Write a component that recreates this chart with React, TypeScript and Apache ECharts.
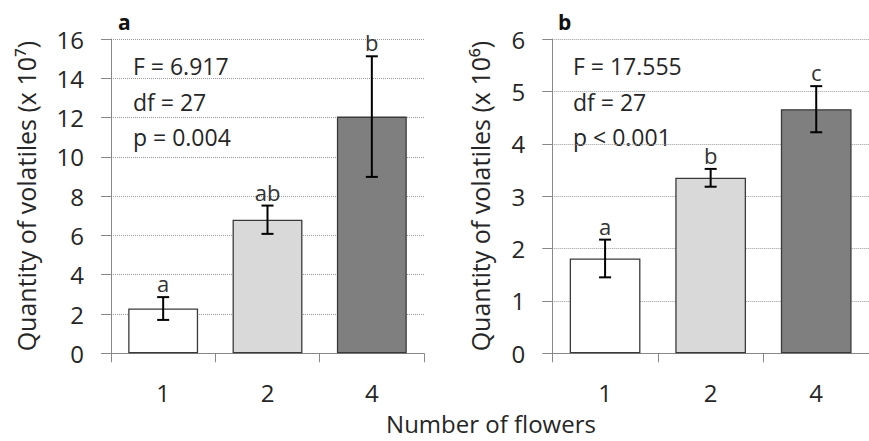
import React, { useEffect, useRef } from "react";
import * as echarts from "echarts";

// Number of flowers per sample
const categories = ["1", "2", "4"];

// Panel a: quantity of volatiles (x 10^7), mean and standard error
const volatilesA = [2.28, 6.8, 12.05];
const errorA = [0.58, 0.72, 3.07];
const lettersA = ["a", "ab", "b"];
const statsA = ["F = 6.917", "df = 27", "p = 0.004"];

// Panel b: quantity of volatiles (x 10^6), mean and standard error
const volatilesB = [1.81, 3.35, 4.66];
const errorB = [0.36, 0.17, 0.44];
const lettersB = ["a", "b", "c"];
const statsB = ["F = 17.555", "df = 27", "p < 0.001"];

const barFills = ["#ffffff", "#d9d9d9", "#7f7f7f"];

const FONT = "'Open Sans', 'Noto Sans', sans-serif";
const TEXT = "#262626";

function errorSeries(gridIndex: number, values: number[], errors: number[], letters: string[]) {
  return {
    type: "custom",
    xAxisIndex: gridIndex,
    yAxisIndex: gridIndex,
    z: 5,
    data: values.map((v, i) => [i, v, errors[i]]),
    renderItem: (params: any, api: any) => {
      const i = api.value(0);
      const v = api.value(1);
      const e = api.value(2);
      const top = api.coord([i, v + e]);
      const bot = api.coord([i, v - e]);
      const half = 6;
      const line = { stroke: "#000", lineWidth: 2 };
      return {
        type: "group",
        children: [
          { type: "line", shape: { x1: top[0], y1: top[1], x2: bot[0], y2: bot[1] }, style: line },
          { type: "line", shape: { x1: top[0] - half, y1: top[1], x2: top[0] + half, y2: top[1] }, style: line },
          { type: "line", shape: { x1: bot[0] - half, y1: bot[1], x2: bot[0] + half, y2: bot[1] }, style: line },
          {
            type: "text",
            x: top[0],
            y: top[1] - 3,
            style: {
              text: letters[params.dataIndex],
              fontSize: 22,
              fontFamily: FONT,
              fill: "#333",
              align: "center",
              verticalAlign: "bottom",
            },
          },
        ],
      };
    },
  };
}

function barSeries(gridIndex: number, values: number[]) {
  return {
    type: "bar",
    xAxisIndex: gridIndex,
    yAxisIndex: gridIndex,
    barWidth: "67%",
    data: values.map((v, i) => ({
      value: v,
      itemStyle: { color: barFills[i], borderColor: "#3a3a3a", borderWidth: 1.3 },
    })),
  };
}

function statText(lines: string[], x: number) {
  return lines.map((t, k) => ({
    type: "text",
    x,
    y: 66 + k * 35.5,
    style: { text: t, fontSize: 23, fontFamily: FONT, fill: TEXT, verticalAlign: "middle" },
  }));
}

export default function App() {
  const ref = useRef<HTMLDivElement>(null);

  useEffect(() => {
    if (!ref.current) return;
    const chart = echarts.init(ref.current, null, { renderer: "svg" });

    const axisLine = { lineStyle: { color: "#888888", width: 1 } };
    const xAxisBase = {
      type: "category",
      data: categories,
      axisLine,
      axisTick: { show: true, length: 9, lineStyle: { color: "#888888" } },
      axisLabel: { fontSize: 24, fontFamily: FONT, color: TEXT, margin: 27 },
    };
    const yAxisBase = {
      type: "value",
      min: 0,
      axisLine: { show: true, ...axisLine },
      axisTick: { show: true, length: 10, lineStyle: { color: "#888888" } },
      axisLabel: { fontSize: 24, fontFamily: FONT, color: TEXT, margin: 27 },
      splitLine: { show: true, lineStyle: { type: "dotted", color: "#9a9a9a", width: 1 } },
      nameLocation: "middle",
      nameTextStyle: { fontSize: 25, fontFamily: FONT, color: TEXT },
    };

    chart.setOption({
      animation: false,
      backgroundColor: "#ffffff",
      grid: [
        { left: 111, top: 39, width: 313, height: 314.3 },
        { left: 552.3, top: 39, width: 327, height: 314.3 },
      ],
      xAxis: [
        { ...xAxisBase, gridIndex: 0 },
        { ...xAxisBase, gridIndex: 1 },
      ],
      yAxis: [
        {
          ...yAxisBase,
          gridIndex: 0,
          max: 16,
          interval: 2,
          name: "Quantity of volatiles (x 10⁷)",
          nameGap: 73,
        },
        {
          ...yAxisBase,
          gridIndex: 1,
          max: 6,
          interval: 1,
          name: "Quantity of volatiles (x 10⁶)",
          nameGap: 60,
        },
      ],
      series: [
        barSeries(0, volatilesA),
        errorSeries(0, volatilesA, errorA, lettersA),
        barSeries(1, volatilesB),
        errorSeries(1, volatilesB, errorB, lettersB),
      ],
      graphic: [
        {
          type: "text",
          x: 118,
          y: 22,
          style: { text: "a", fontSize: 21, fontWeight: "bold", fontFamily: FONT, fill: "#111", verticalAlign: "middle" },
        },
        {
          type: "text",
          x: 558,
          y: 22,
          style: { text: "b", fontSize: 21, fontWeight: "bold", fontFamily: FONT, fill: "#111", verticalAlign: "middle" },
        },
        ...statText(statsA, 133),
        ...statText(statsB, 573),
        {
          type: "text",
          x: 491,
          y: 423,
          style: {
            text: "Number of flowers",
            fontSize: 24,
            lineHeight: 24,
            fontFamily: FONT,
            fill: TEXT,
            align: "center",
            verticalAlign: "middle",
          },
        },
      ],
    });

    return () => chart.dispose();
  }, []);

  return (
    <div
      ref={ref}
      style={{ position: "fixed", left: 0, top: 0, width: 869, height: 441, background: "#fff" }}
    />
  );
}
